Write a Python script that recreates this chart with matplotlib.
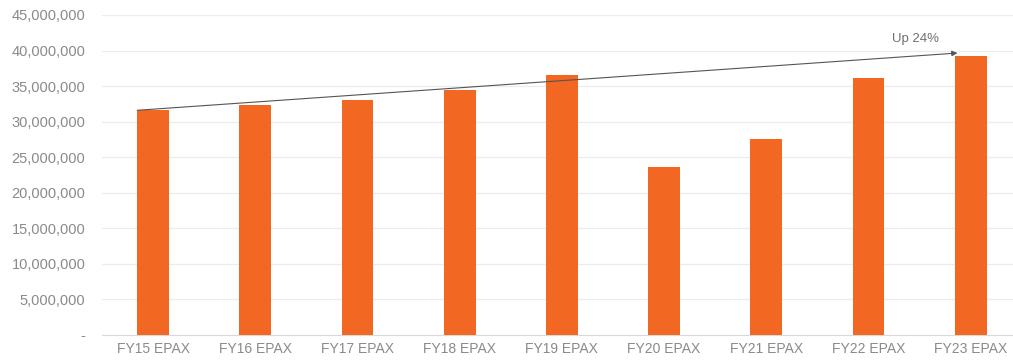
import matplotlib.pyplot as plt
from matplotlib.ticker import FuncFormatter

categories = ['FY15 EPAX', 'FY16 EPAX', 'FY17 EPAX', 'FY18 EPAX', 'FY19 EPAX',
              'FY20 EPAX', 'FY21 EPAX', 'FY22 EPAX', 'FY23 EPAX']
passengers = [31600000, 32300000, 33000000, 34500000, 36600000,
              23600000, 27600000, 36100000, 39200000]
y_ticks = [0, 5000000, 10000000, 15000000, 20000000, 25000000,
           30000000, 35000000, 40000000, 45000000]
trend_label = 'Up 24%'

orange = '#F26722'
grey_text = '#8a8a8a'

plt.rcParams['font.family'] = ['Liberation Sans', 'DejaVu Sans']

fig = plt.figure(figsize=(10.13, 3.62), dpi=100)
ax = fig.add_axes([0.1007, 0.0746, 0.908, 0.884])

x = range(len(categories))
bar_width = 0.31
ax.bar(x, passengers, width=bar_width, color=orange, zorder=3)

ax.set_ylim(0, 45000000)
ax.set_xlim(-0.5, len(categories) - 0.5)
ax.set_yticks(y_ticks)
ax.yaxis.set_major_formatter(FuncFormatter(lambda v, p: '-' if v == 0 else f'{int(v):,}'))
ax.set_xticks(list(x))
ax.set_xticklabels(categories)

ax.grid(axis='y', color='#ececec', linewidth=0.9, zorder=0)
for side in ['top', 'right', 'left']:
    ax.spines[side].set_visible(False)
ax.spines['bottom'].set_color('#d9d9d9')
ax.tick_params(axis='y', length=0, pad=12, labelsize=10.5, labelcolor=grey_text)
ax.tick_params(axis='x', length=0, pad=5, labelsize=10, labelcolor=grey_text)

# trend arrow from first bar to last bar
start = (-bar_width / 2, passengers[0])
end = (len(categories) - 1 - 0.13, passengers[-1] + 450000)
ax.annotate('', xy=end, xytext=start,
            arrowprops=dict(arrowstyle='-|>', color='#555555', lw=0.8,
                            mutation_scale=8, shrinkA=0, shrinkB=0),
            zorder=4)
ax.text(7.46, 41600000, trend_label, ha='center', va='center',
        fontsize=9.5, color='#707070')

fig.savefig('out.png', dpi=100)
